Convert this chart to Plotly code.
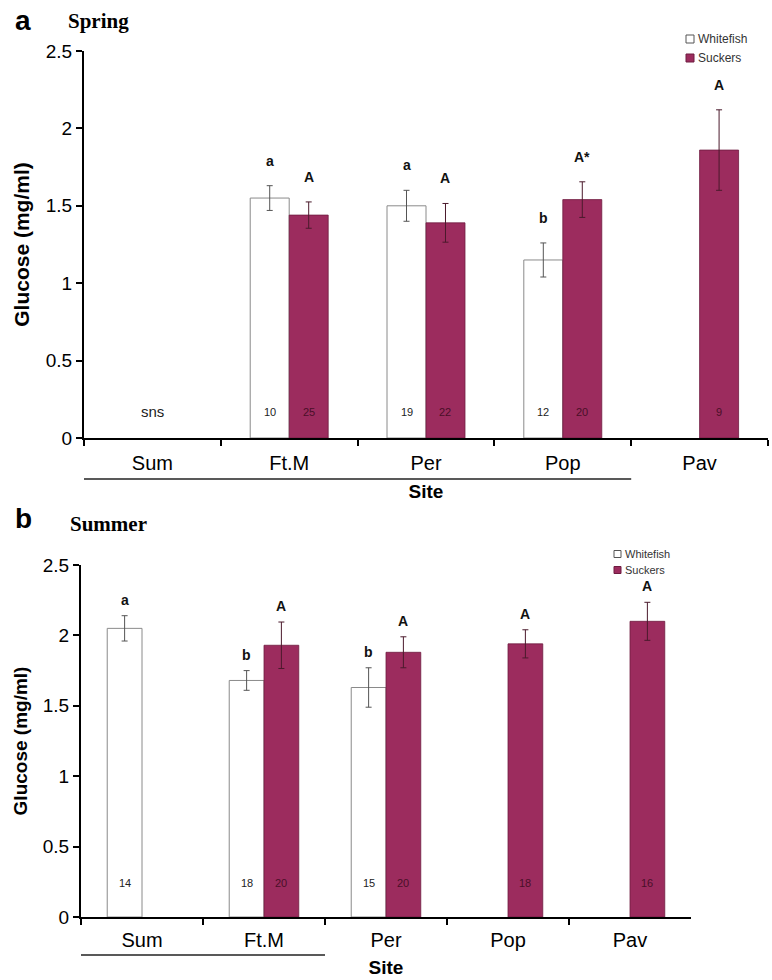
import plotly.graph_objects as go

sites = ["Sum", "Ft.M", "Per", "Pop", "Pav"]

# Panel a - Spring
spring_whitefish = [None, 1.55, 1.50, 1.15, None]
spring_whitefish_err = [None, 0.08, 0.10, 0.11, None]
spring_suckers = [None, 1.44, 1.39, 1.54, 1.86]
spring_suckers_err = [None, 0.085, 0.125, 0.115, 0.26]
spring_whitefish_letters = [None, "a", "a", "b", None]
spring_suckers_letters = [None, "A", "A", "A*", "A"]
spring_whitefish_n = [None, 10, 19, 12, None]
spring_suckers_n = [None, 25, 22, 20, 9]

# Panel b - Summer
summer_whitefish = [2.05, 1.68, 1.63, None, None]
summer_whitefish_err = [0.09, 0.07, 0.14, None, None]
summer_suckers = [None, 1.93, 1.88, 1.94, 2.10]
summer_suckers_err = [None, 0.165, 0.11, 0.10, 0.135]
summer_whitefish_letters = ["a", "b", "b", None, None]
summer_suckers_letters = [None, "A", "A", "A", "A"]
summer_whitefish_n = [14, 18, 15, None, None]
summer_suckers_n = [None, 20, 20, 18, 16]

series_names = ["Whitefish", "Suckers"]
y_ticks = [0, 0.5, 1, 1.5, 2, 2.5]
y_ticktext = ["0", "0.5", "1", "1.5", "2", "2.5"]

SUCKER = "#9c2c5e"
WF_LINE = "#8a8a8a"
BARGAP = 0.43
W, H = 772, 980
SANS = "Liberation Sans, Arial"
NARROW = "Liberation Sans Narrow, Liberation Sans, Arial"

fig = go.Figure()

def add_panel(xa, ya, wf, wf_err, sk, sk_err):
    fig.add_trace(go.Bar(
        x=sites, y=wf, name=series_names[0], xaxis=xa, yaxis=ya, showlegend=False,
        marker=dict(color="white", line=dict(color=WF_LINE, width=1)),
        error_y=dict(type="data", array=wf_err, color="#555555", thickness=1, width=3),
    ))
    fig.add_trace(go.Bar(
        x=sites, y=sk, name=series_names[1], xaxis=xa, yaxis=ya, showlegend=False,
        marker=dict(color=SUCKER, line=dict(color="#6e1c40", width=0.8)),
        error_y=dict(type="data", array=sk_err, color="#4a1a2c", thickness=1, width=3),
    ))

add_panel("x", "y", spring_whitefish, spring_whitefish_err, spring_suckers, spring_suckers_err)
add_panel("x2", "y2", summer_whitefish, summer_whitefish_err, summer_suckers, summer_suckers_err)

off = (1 - BARGAP) / 4
annotations = []
shapes = []

def add_labels(xref, yref, vals, errs, letters, ns, sign, nlevel, letter_shift, ncolor):
    for i, (v, e, l, n) in enumerate(zip(vals, errs, letters, ns)):
        if v is None:
            continue
        annotations.append(dict(x=i + sign * off, y=v + e, xref=xref, yref=yref, text=l,
                                showarrow=False, yanchor="middle", yshift=letter_shift,
                                font=dict(family=SANS, size=14, color="#111111", weight="bold")))
        annotations.append(dict(x=i + sign * off, y=nlevel, xref=xref, yref=yref, text=str(n),
                                showarrow=False, yanchor="middle",
                                font=dict(family=NARROW, size=11, color=ncolor)))

add_labels("x", "y", spring_whitefish, spring_whitefish_err, spring_whitefish_letters, spring_whitefish_n, -1, 0.17, 25, "#222222")
add_labels("x", "y", spring_suckers, spring_suckers_err, spring_suckers_letters, spring_suckers_n, 1, 0.17, 25, "#4a0f28")
add_labels("x2", "y2", summer_whitefish, summer_whitefish_err, summer_whitefish_letters, summer_whitefish_n, -1, 0.24, 16, "#222222")
add_labels("x2", "y2", summer_suckers, summer_suckers_err, summer_suckers_letters, summer_suckers_n, 1, 0.24, 16, "#4a0f28")

annotations.append(dict(x=0, y=0.17, xref="x", yref="y", text="sns", showarrow=False, yanchor="middle",
                        font=dict(family=SANS, size=15, color="#222222")))

# panel letters and titles
annotations += [
    dict(x=13 / W, y=1 - 20 / H, xref="paper", yref="paper", text="a", showarrow=False,
         xanchor="left", yanchor="middle", font=dict(family=SANS, size=28, color="black", weight="bold")),
    dict(x=66 / W, y=1 - 21 / H, xref="paper", yref="paper", text="Spring", showarrow=False,
         xanchor="left", yanchor="middle", font=dict(family="Liberation Serif, Times New Roman", size=21, color="black", weight="bold")),
    dict(x=13 / W, y=1 - 518 / H, xref="paper", yref="paper", text="b", showarrow=False,
         xanchor="left", yanchor="middle", font=dict(family=SANS, size=28, color="black", weight="bold")),
    dict(x=68 / W, y=1 - 524 / H, xref="paper", yref="paper", text="Summer", showarrow=False,
         xanchor="left", yanchor="middle", font=dict(family="Liberation Serif, Times New Roman", size=21, color="black", weight="bold")),
]

# manual legends (small square + text, as in the reference)
def add_legend(x_px, y_px_list, sq, fsize):
    fills = ["white", SUCKER]
    lines = ["#555555", "#6e1c40"]
    for name, yc, fc, lc in zip(series_names, y_px_list, fills, lines):
        shapes.append(dict(type="rect", xref="paper", yref="paper",
                           x0=x_px / W, x1=(x_px + sq) / W,
                           y0=1 - (yc + sq / 2) / H, y1=1 - (yc - sq / 2) / H,
                           fillcolor=fc, line=dict(color=lc, width=1)))
        annotations.append(dict(x=(x_px + sq + 2) / W, y=1 - yc / H, xref="paper", yref="paper",
                                text=name, showarrow=False, xanchor="left", yanchor="middle",
                                font=dict(family=SANS, size=fsize, color="#333333")))

add_legend(686, [39, 58], 8, 12)
add_legend(614, [554, 570], 7, 11)

shapes += [
    dict(type="line", xref="x", yref="paper", x0=-0.5, x1=3.5, y0=1 - 479 / H, y1=1 - 479 / H,
         line=dict(color="#222222", width=1.5)),
    dict(type="line", xref="x2", yref="paper", x0=-0.5, x1=1.5, y0=1 - 955 / H, y1=1 - 955 / H,
         line=dict(color="#222222", width=1.5)),
]

def xaxis_common(standoff, title_standoff):
    return dict(
        type="category", categoryorder="array", categoryarray=sites,
        showline=True, linecolor="black", linewidth=2, ticks="outside", tickson="boundaries",
        ticklen=6, tickwidth=2, tickcolor="black", showgrid=False, zeroline=False,
        tickfont=dict(family=NARROW, size=20, color="black"), ticklabelstandoff=standoff,
        range=[-0.5, 4.5],
        title=dict(text="<b>Site</b>", font=dict(family=SANS, size=19, color="black"), standoff=title_standoff),
    )

def yaxis_common(tsize):
    return dict(
        range=[0, 2.5], tickvals=y_ticks, ticktext=y_ticktext,
        showline=True, linecolor="black", linewidth=2, ticks="outside", ticklen=6, tickwidth=2,
        tickcolor="black", showgrid=False, zeroline=False,
        tickfont=dict(family=SANS, size=19, color="black"),
        title=dict(text="<b>Glucose (mg/ml)</b>", font=dict(family=SANS, size=tsize, color="black"), standoff=10),
    )

fig.update_layout(
    width=W, height=H, margin=dict(l=0, r=0, t=0, b=0, autoexpand=False),
    paper_bgcolor="white", plot_bgcolor="white",
    barmode="group", bargap=BARGAP, bargroupgap=0,
    xaxis=dict(domain=[84 / W, 768 / W], anchor="y", **xaxis_common(6, 12)),
    yaxis=dict(domain=[1 - 438 / H, 1 - 51 / H], anchor="x", **yaxis_common(21)),
    xaxis2=dict(domain=[81 / W, 691 / W], anchor="y2", **xaxis_common(4, 11)),
    yaxis2=dict(domain=[1 - 917 / H, 1 - 565 / H], anchor="x2", **yaxis_common(19)),
    annotations=annotations, shapes=shapes, showlegend=False,
)

fig.write_html("out.html", config={"displayModeBar": False},
               post_script="document.body.style.margin='0';document.body.style.overflow='hidden';")
